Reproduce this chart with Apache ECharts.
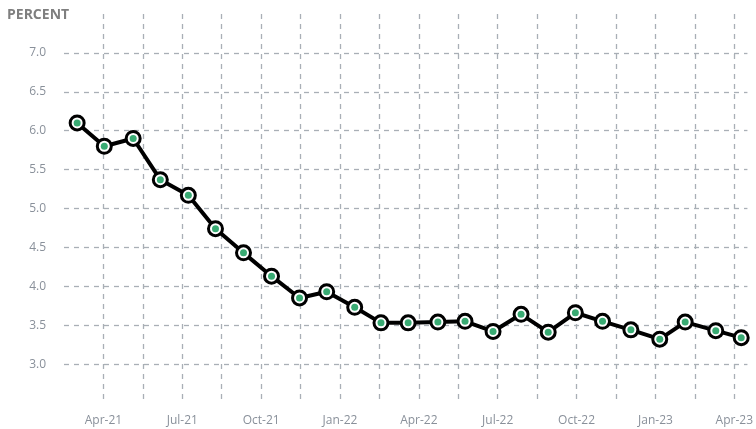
<!DOCTYPE html>
<html>
<head>
<meta charset="utf-8">
<script src="https://cdn.jsdelivr.net/npm/echarts@6/dist/echarts.min.js"></script>
<style>
  html, body { margin: 0; padding: 0; background: #fff; }
  #chart { width: 756px; height: 429px; }
</style>
</head>
<body>
<div id="chart"></div>
<script>
var dates = ['2021-03-01', '2021-04-02', '2021-05-05', '2021-06-06', '2021-07-08',
  '2021-08-09', '2021-09-11', '2021-10-13', '2021-11-15', '2021-12-16',
  '2022-01-18', '2022-02-18', '2022-03-19', '2022-04-23', '2022-05-24',
  '2022-06-26', '2022-07-28', '2022-08-29', '2022-09-30', '2022-10-31',
  '2022-12-03', '2023-01-06', '2023-02-05', '2023-03-10', '2023-04-09'];
var values = [6.1, 5.8, 5.9, 5.37, 5.17, 4.74, 4.43, 4.13, 3.85, 3.93,
  3.73, 3.53, 3.53, 3.54, 3.55, 3.42, 3.64, 3.41, 3.66, 3.55,
  3.44, 3.32, 3.54, 3.43, 3.34];
var monthNames = ['Jan', 'Feb', 'Mar', 'Apr', 'May', 'Jun', 'Jul', 'Aug', 'Sep', 'Oct', 'Nov', 'Dec'];
var yTicks = [3.0, 3.5, 4.0, 4.5, 5.0, 5.5, 6.0, 6.5, 7.0];

// months counted from Jan 2021
function toMonths(s) {
  var p = s.split('-');
  return (parseInt(p[0]) - 2021) * 12 + (parseInt(p[1]) - 1) + (parseInt(p[2]) - 1) / 30.4;
}

var points = [];
for (var i = 0; i < dates.length; i++) {
  points.push([toMonths(dates[i]), values[i]]);
}

var grid = '#a9afb6';
var none = 'rgba(0,0,0,0)';
var yLineColors = [none].concat(yTicks.map(function () { return grid; })).concat([none]);
var xLineColors = [none];
for (var k = 0; k < 17; k++) xLineColors.push(grid);
xLineColors.push(none);

var chart = echarts.init(document.getElementById('chart'));
chart.setOption({
  animation: false,
  textStyle: { fontFamily: 'Open Sans' },
  grid: { left: 64, right: 6, top: 14, bottom: 26 },
  graphic: [{
    type: 'text', left: 7, top: 8,
    style: { text: 'PERCENT', fill: '#7f7f7f', font: 'bold 14px "Open Sans"' }
  }],
  xAxis: {
    type: 'value', min: 1.5, max: 27.5, interval: 1.5,
    axisLine: { show: false }, axisTick: { show: false },
    axisLabel: {
      color: '#89909a', fontSize: 12, margin: 12,
      showMinLabel: true, showMaxLabel: true,
      formatter: function (v) {
        var r = Math.round(v);
        if (Math.abs(v - r) > 1e-6 || r % 3 !== 0) return '';
        var yr = 2021 + Math.floor(r / 12);
        return monthNames[r % 12] + '-' + String(yr).slice(2);
      }
    },
    splitLine: { show: true, lineStyle: { color: xLineColors, type: [5, 5], width: 1.3 } }
  },
  yAxis: {
    type: 'value', min: 2.5, max: 7.5, interval: 0.5,
    axisLine: { show: false }, axisTick: { show: false },
    axisLabel: {
      color: '#89909a', fontSize: 12, margin: 18,
      showMinLabel: false, showMaxLabel: false,
      formatter: function (v) { return v.toFixed(1); }
    },
    splitLine: { show: true, lineStyle: { color: yLineColors, type: [5, 5], width: 1.3 } }
  },
  series: [{
    type: 'line',
    data: points,
    symbol: 'circle',
    symbolSize: 14,
    lineStyle: { color: '#000', width: 4 },
    itemStyle: { color: '#fff', borderColor: '#000', borderWidth: 3 },
    z: 2
  }, {
    type: 'scatter',
    data: points,
    symbol: 'circle',
    symbolSize: 7,
    itemStyle: { color: '#079650' },
    z: 3
  }]
});
</script>
</body>
</html>
